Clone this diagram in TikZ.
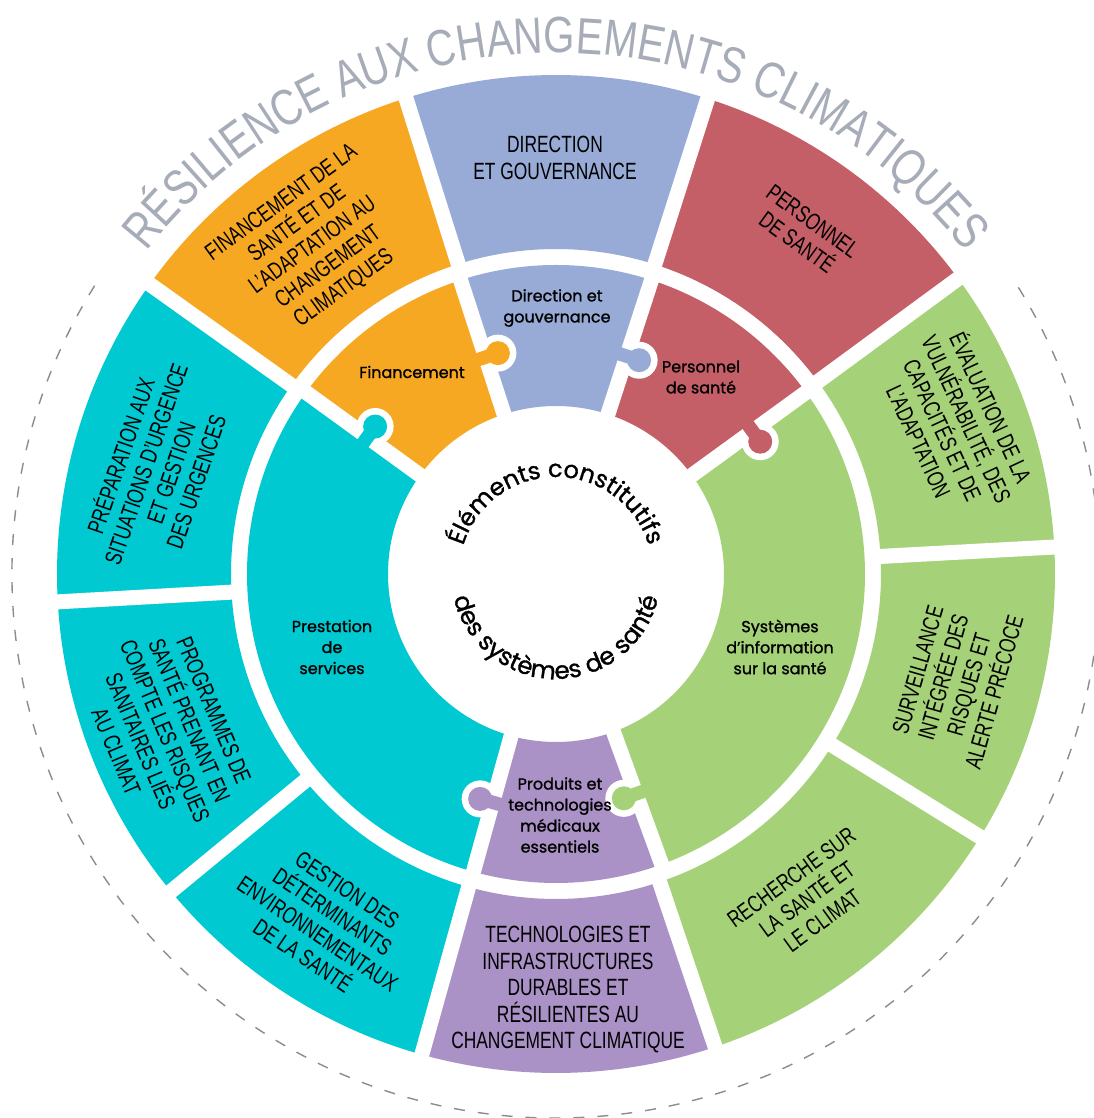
\documentclass[tikz,border=0pt]{standalone}
\usepackage{fontspec}
\setmainfont{Liberation Sans}
\newfontfamily\condf[FakeStretch=0.74]{Liberation Sans}
\newfontfamily\titlef[FakeStretch=0.79]{Liberation Sans}
\newfontfamily\geof[FakeBold=1.2]{Poppins}
\usetikzlibrary{decorations.text,calc}
\definecolor{corange}{HTML}{F7A823}
\definecolor{cblue}{HTML}{98ABD6}
\definecolor{cred}{HTML}{C45E67}
\definecolor{cgreen}{HTML}{A5D278}
\definecolor{cteal}{HTML}{00C9D1}
\definecolor{cpurple}{HTML}{AA91C6}
\definecolor{ctitle}{HTML}{A7ADB8}
\definecolor{cdash}{HTML}{8C8C8C}
\newcommand\annsec[5]{\fill[#1] (#2:#4) arc[start angle=#2, end angle=#3, radius=#4] -- (#3:#5) arc[start angle=#3, end angle=#2, radius=#5] -- cycle;}
\newcommand\outgap[1]{\draw[gapline] (#1:318) -- (#1:506);}
\newcommand\ingap[1]{\draw[gapline] (#1:160) -- (#1:316);}
\newcommand\knob[3]{%
  \fill[white] ($(#1:#2)+(#1-90:13)$) circle[radius=18.5];
  \draw[#3, line width=13.5] ($(#1:#2)+(#1+90:10)$) -- ($(#1:#2)+(#1-90:13)$);
  \fill[#3] ($(#1:#2)+(#1-90:13)$) circle[radius=12];}
\begin{document}
\begin{tikzpicture}[x=1pt,y=1pt,
  gapline/.style={white, line width=15},
  outer/.style={font=\condf\fontsize{23.5}{26.5}\selectfont, align=center, text=black, inner sep=0},
  inner/.style={font=\geof\fontsize{16}{21}\selectfont, align=center, text=black, inner sep=0}]
\useasboundingbox (-556,-544) rectangle (537,574);
\fill[white] (-556,-544) rectangle (537,574);
% outer ring
\annsec{corange}{107.5}{144.5}{325}{499}
\annsec{cblue}{72.3}{107.5}{325}{499}
\annsec{cred}{36.3}{72.3}{325}{499}
\annsec{cgreen}{3.1}{36.3}{325}{499}
\annsec{cgreen}{-31.8}{3.1}{325}{499}
\annsec{cgreen}{-71.4}{-31.8}{325}{499}
\annsec{cpurple}{-105.6}{-71.4}{325}{499}
\annsec{cteal}{-140.5}{-105.6}{325}{499}
\annsec{cteal}{-176.8}{-140.5}{325}{499}
\annsec{cteal}{144.5}{183.2}{325}{499}
\foreach \g in {144.5,107.5,72.3,36.3,3.1,-31.8,-71.4,-105.6,-140.5,-176.8} {\outgap{\g}}
% inner ring
\annsec{cteal}{144}{254.5}{168}{309}
\annsec{corange}{108}{144}{168}{309}
\annsec{cblue}{72}{108}{168}{309}
\annsec{cred}{36}{72}{168}{309}
\annsec{cgreen}{-70}{36}{168}{309}
\annsec{cpurple}{-105.5}{-70}{168}{309}
\foreach \g in {144,108,72,36,-70,-105.5} {\ingap{\g}}
\knob{144}{233}{cteal}
\knob{108}{228}{corange}
\knob{72}{229}{cblue}
\knob{36}{243}{cred}
\knob{-70}{234}{cgreen}
\knob{-105.5}{237}{cpurple}
% outer labels
\node[outer, rotate=36] (o1) at (-243,328) {FINANCEMENT DE LA\\SANTÉ ET DE\\L’ADAPTATION AU\\CHANGEMENT\\CLIMATIQUES};
\node[outer] (o2) at (-1,416) {DIRECTION\\ET GOUVERNANCE};
\node[outer, rotate=-36] (o3) at (249,342) {PERSONNEL\\DE SANTÉ};
\node[outer, rotate=-65] (o4) at (400,150) {ÉVALUATION DE LA\\VULNÉRABILITÉ, DES\\CAPACITÉS ET DE\\L’ADAPTATION};
\node[outer, rotate=74] (o5) at (400,-107) {SURVEILLANCE\\INTÉGRÉE DES\\RISQUES ET\\ALERTE PRÉCOCE};
\node[outer, rotate=36] (o6) at (251,-325) {RECHERCHE SUR\\LA SANTÉ ET\\LE CLIMAT};
\node[outer] (o7) at (12,-416) {TECHNOLOGIES ET\\INFRASTRUCTURES\\DURABLES ET\\RÉSILIENTES AU\\CHANGEMENT CLIMATIQUE};
\node[outer, rotate=-34] (o8) at (-231,-349) {GESTION DES\\DÉTERMINANTS\\ENVIRONNEMENTAUX\\DE LA SANTÉ};
\node[outer, rotate=-67] (o9) at (-391,-157) {PROGRAMMES DE\\SANTÉ PRENANT EN\\COMPTE LES RISQUES\\SANITAIRES LIÉS\\AU CLIMAT};
\node[outer, rotate=71] (o10) at (-399,106) {PRÉPARATION AUX\\SITUATIONS D’URGENCE\\ET GESTION\\DES URGENCES};
% inner labels
\node[inner] (i1) at (-144,202) {Financement};
\node[inner] (i2) at (1,266) {Direction et\\gouvernance};
\node[inner] (i3) at (145,197) {Personnel\\de santé};
\node[inner] (i4) at (224,-73) {Systèmes\\d’information\\sur la santé};
\node[inner] (i5) at (4,-241) {Produits et\\technologies\\médicaux\\essentiels};
\node[inner] (i6) at (-224,-73) {Prestation\\de\\services};
% centre text
\path[decorate, decoration={text along path, text={|\geof\fontsize{24}{24}\selectfont|Éléments constitutifs}, text align=center}] (170:97) arc[start angle=170, end angle=10, radius=97];
\path[decorate, decoration={text along path, text={|\geof\fontsize{24.5}{24.5}\selectfont|des systèmes de santé}, text align=center}] (185:105) arc[start angle=185, end angle=355, radius=105];
% dashed circle and title
\draw[cdash, line width=1.4, dash pattern=on 11pt off 13pt] (148:544) arc[start angle=148, end angle=392, radius=544];
\path[decorate, decoration={text along path, text={|\titlef\fontsize{51}{51}\selectfont\color{ctitle}|RÉSILIENCE AUX CHANGEMENTS CLIMATIQUES}, text align=center}] (150:521) arc[start angle=150, end angle=30, radius=521];
\end{tikzpicture}
\end{document}
